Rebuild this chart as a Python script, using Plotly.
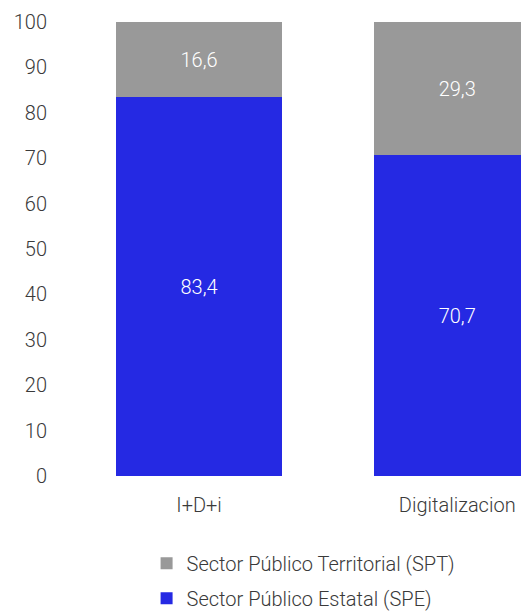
import plotly.graph_objects as go

categories = ["I+D+i", "Digitalizacion"]
spe_values = [83.4, 70.7]
spt_values = [16.6, 29.3]
y_ticks = [0, 10, 20, 30, 40, 50, 60, 70, 80, 90, 100]

BLUE = "#2529e3"
GREY = "#999999"
FONT = "Roboto Light, Roboto"
TEXT = "#3a3a3a"

fig = go.Figure()
fig.add_trace(go.Bar(
    x=categories, y=spe_values, name="Sector Público Estatal (SPE)",
    marker=dict(color=BLUE, line=dict(width=0)),
    texttemplate="%{y:.1f}", textposition="inside",
    insidetextanchor="middle", textangle=0,
    textfont=dict(color="white", size=20, family=FONT, weight=300),
    width=0.642, legendgroup="spe", legendrank=2,
))
fig.add_trace(go.Bar(
    x=categories, y=spt_values, name="Sector Público Territorial (SPT)",
    marker=dict(color=GREY, line=dict(width=0)),
    texttemplate="%{y:.1f}", textposition="inside",
    insidetextanchor="middle", textangle=0,
    textfont=dict(color="white", size=20, family=FONT, weight=300),
    width=0.642, legendgroup="spt", legendrank=1,
))

fig.update_layout(
    width=529, height=614,
    barmode="stack",
    separators=",.",
    plot_bgcolor="white", paper_bgcolor="white",
    margin=dict(l=62, r=0, t=14, b=146, autoexpand=False),
    font=dict(family=FONT, size=20, color=TEXT, weight=300),
    uniformtext=dict(mode="show", minsize=20),
    legend=dict(
        orientation="v", traceorder="grouped", tracegroupgap=6,
        x=0.164, xanchor="left", y=-0.149, yanchor="top",
        font=dict(size=20, family=FONT, color=TEXT, weight=300),
        itemwidth=30,
    ),
)
fig.update_xaxes(
    range=[-0.5, 1.309], showgrid=False, showline=False, ticks="",
    ticklabelstandoff=15,
    tickfont=dict(size=20, family=FONT, color=TEXT, weight=300),
)
fig.update_yaxes(
    range=[0, 100], tickvals=y_ticks, showgrid=False, zeroline=False, showline=False,
    ticks="", ticklabelstandoff=22,
    tickfont=dict(size=20, family=FONT, color=TEXT, weight=300),
)

fig.write_html("out.html")
